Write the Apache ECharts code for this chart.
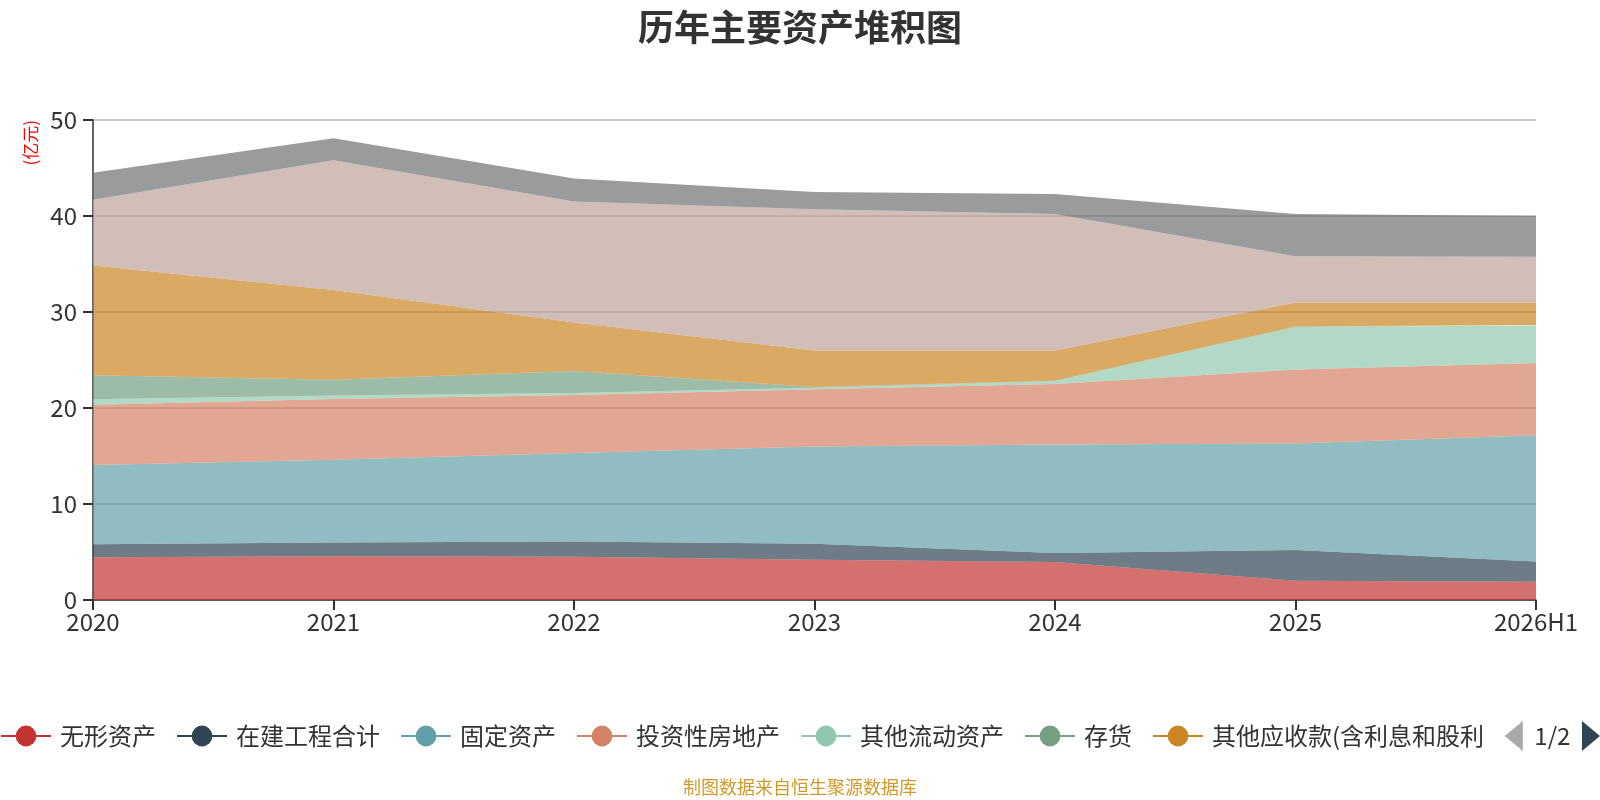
<!DOCTYPE html>
<html>
<head>
<meta charset="utf-8">
<title>历年主要资产堆积图</title>
<script src="https://cdn.jsdelivr.net/npm/echarts@6/dist/echarts.min.js"></script>
<style>
  html, body { margin: 0; padding: 0; background: #fff; }
  #chart { width: 1600px; height: 800px; }
</style>
</head>
<body>
<div id="chart"></div>
<script>
// 年份
const years = ['2020', '2021', '2022', '2023', '2024', '2025', '2026H1'];

// 各项资产（亿元），按堆叠顺序从下到上
const wuxingzichan = [4.45, 4.55, 4.5, 4.2, 3.95, 2.0, 1.9];
const zaijiangongcheng = [1.35, 1.45, 1.6, 1.65, 0.95, 3.2, 2.1];
const gudingzichan = [8.25, 8.6, 9.2, 10.15, 11.3, 11.1, 13.15];
const touzixingfangdichan = [6.3, 6.35, 6.05, 5.95, 6.3, 7.7, 7.55];
const qitaliudongzichan = [0.55, 0.35, 0.2, 0.15, 0.3, 4.45, 3.9];
const cunhuo = [2.5, 1.65, 2.3, 0.1, 0.05, 0.05, 0.05];
const qitayingshoukuan = [11.45, 9.35, 5.05, 3.8, 3.15, 2.5, 2.35];
const huobizijin = [6.85, 13.5, 12.6, 14.7, 14.2, 4.8, 4.75];
const changqiguquan = [2.8, 2.3, 2.4, 1.8, 2.1, 4.4, 4.25];

const seriesNames = ['无形资产', '在建工程合计', '固定资产', '投资性房地产', '其他流动资产',
    '存货', '其他应收款(含利息和股利)', '货币资金', '长期股权投资'];
const seriesData = [wuxingzichan, zaijiangongcheng, gudingzichan, touzixingfangdichan,
    qitaliudongzichan, cunhuo, qitayingshoukuan, huobizijin, changqiguquan];

const palette = ['#c23531', '#2f4554', '#61a0a8', '#d48265', '#91c7ae', '#749f83',
    '#ca8622', '#bda29a', '#6e7074', '#546570', '#c4ccd3'];

const fontCn = '"Noto Sans CJK SC", "Noto Sans", sans-serif';

let myChart = echarts.init(document.getElementById('chart'));

let series = [];
for (let i = 0; i < seriesNames.length; i++) {
    series.push({
        name: seriesNames[i],
        type: 'line',
        stack: 'total',
        symbol: 'circle',
        showSymbol: false,
        lineStyle: { width: 0 },
        areaStyle: { opacity: 0.7 },
        data: seriesData[i]
    });
}

let option = {
    color: palette,
    textStyle: { fontFamily: fontCn },
    title: {
        text: '历年主要资产堆积图',
        left: 'center',
        top: 4,
        textStyle: { fontSize: 36, fontWeight: 'bold', color: '#333', fontFamily: fontCn }
    },
    grid: {
        left: 93,
        right: 64,
        top: 120,
        bottom: 200
    },
    legend: {
        type: 'scroll',
        left: 0,
        right: 0,
        top: 716,
        padding: [5, 0, 5, 0],
        itemWidth: 50,
        itemHeight: 26,
        itemGap: 20,
        lineStyle: { width: 2 },
        textStyle: { fontSize: 24, color: '#333', fontFamily: fontCn, padding: [0, 0, 0, 4] },
        pageIconSize: [19, 30],
        pageButtonItemGap: 1,
        pageButtonGap: 22,
        pageIconColor: '#2f4554',
        pageIconInactiveColor: '#aaa',
        pageTextStyle: { fontSize: 24, color: '#333' },
        data: seriesNames
    },
    xAxis: {
        type: 'category',
        boundaryGap: false,
        data: years,
        axisLine: { lineStyle: { color: '#333', width: 1.5 } },
        axisTick: { show: true, length: 10, lineStyle: { color: '#333', width: 2 } },
        axisLabel: { fontSize: 24, color: '#333', margin: 10 }
    },
    yAxis: {
        type: 'value',
        min: 0,
        max: 50,
        interval: 10,
        axisLine: { show: true, lineStyle: { color: '#333', width: 1.5 } },
        axisTick: { show: true, length: 10, lineStyle: { color: '#333', width: 2 } },
        axisLabel: { fontSize: 24, color: '#333', margin: 16 },
        splitLine: { lineStyle: { color: '#ccc', width: 2 } }
    },
    graphic: [
        {
            type: 'text',
            x: 31,
            y: 120,
            rotation: Math.PI / 2,
            style: {
                text: '(亿元)',
                fill: '#ff0000',
                font: '17px ' + fontCn,
                textAlign: 'right',
                textVerticalAlign: 'middle'
            }
        },
        {
            type: 'text',
            left: 'center',
            top: 778,
            style: {
                text: '制图数据来自恒生聚源数据库',
                fill: '#cf9a2b',
                font: '18px ' + fontCn
            }
        }
    ],
    series: series
};

myChart.setOption(option);
window.onresize = function () {
    myChart.resize();
};
</script>
</body>
</html>
